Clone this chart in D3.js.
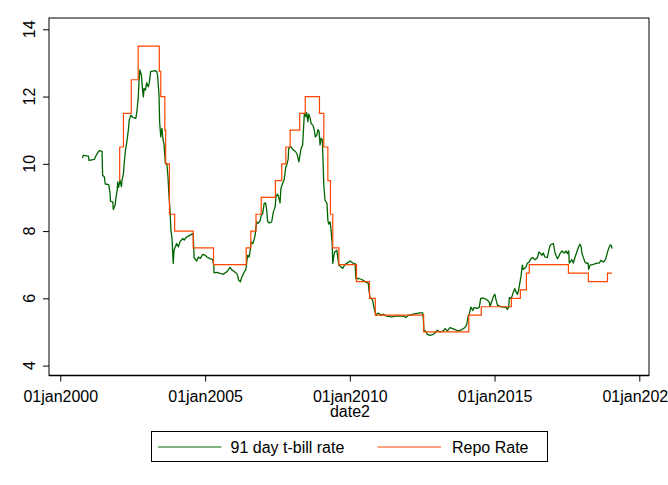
<!DOCTYPE html>
<html>
<head>
<meta charset="utf-8">
<script src="https://cdn.jsdelivr.net/npm/d3@7"></script>
<style>
  body { margin: 0; background: #fff; }
  text { font-family: "Liberation Sans", Arial, sans-serif; fill: #000; }
</style>
</head>
<body>
<div class="canvas"></div>
<script>
// values: [decimal year, rate]
const tbill = [
  [2000.76,10.17],[2000.79,10.25],[2000.97,10.23],[2000.99,10.10],[2001.05,10.11],[2001.17,10.13],
  [2001.26,10.29],[2001.34,10.39],[2001.44,10.37],[2001.46,9.66],[2001.52,9.61],[2001.55,9.40],
  [2001.67,9.38],[2001.72,9.12],[2001.73,8.89],[2001.81,8.87],[2001.83,8.64],[2001.89,8.77],
  [2001.92,8.97],[2001.97,9.27],[2001.98,9.46],[2002.01,9.30],[2002.06,9.51],[2002.11,9.32],
  [2002.13,9.51],[2002.18,9.71],[2002.21,10.06],[2002.25,10.41],[2002.29,10.61],[2002.35,11.00],
  [2002.38,11.30],[2002.44,11.45],[2002.50,11.38],[2002.61,11.35],[2002.65,11.60],[2002.69,11.95],
  [2002.72,12.49],[2002.75,12.79],[2002.80,12.64],[2002.85,12.10],[2002.87,11.99],[2002.89,12.24],
  [2002.94,12.19],[2002.98,12.41],[2003.04,12.29],[2003.07,12.39],[2003.12,12.74],[2003.27,12.77],
  [2003.33,12.74],[2003.36,12.64],[2003.41,12.04],[2003.43,11.25],[2003.47,10.80],[2003.51,11.05],
  [2003.55,10.71],[2003.58,10.61],[2003.63,10.01],[2003.68,10.01],[2003.72,9.61],[2003.75,9.12],
  [2003.79,8.62],[2003.82,8.03],[2003.86,7.78],[2003.90,7.04],[2003.93,7.43],[2003.97,7.53],
  [2004.02,7.63],[2004.08,7.53],[2004.13,7.68],[2004.23,7.78],[2004.28,7.73],[2004.34,7.81],
  [2004.42,7.85],[2004.54,7.91],[2004.59,7.93],[2004.62,7.21],[2004.71,7.11],[2004.77,7.23],
  [2004.83,7.18],[2004.92,7.31],[2005.00,7.28],[2005.06,7.23],[2005.17,7.18],[2005.26,7.15],
  [2005.30,6.98],[2005.31,6.76],[2005.40,6.77],[2005.52,6.74],[2005.63,6.72],[2005.75,6.79],
  [2005.86,6.92],[2005.93,6.84],[2006.03,6.78],[2006.11,6.72],[2006.16,6.54],[2006.22,6.49],
  [2006.25,6.59],[2006.30,6.69],[2006.36,6.79],[2006.41,6.86],[2006.44,7.08],[2006.47,7.28],
  [2006.52,7.23],[2006.56,7.43],[2006.59,7.68],[2006.65,7.63],[2006.69,7.73],[2006.73,7.88],
  [2006.78,8.27],[2006.83,8.23],[2006.90,8.30],[2006.94,8.47],[2006.99,8.52],[2007.04,8.82],
  [2007.09,8.84],[2007.13,8.62],[2007.16,8.30],[2007.22,8.24],[2007.30,8.27],[2007.36,8.57],
  [2007.42,8.72],[2007.45,9.02],[2007.50,9.10],[2007.54,9.02],[2007.59,8.84],[2007.62,9.27],
  [2007.68,9.42],[2007.73,9.51],[2007.79,9.91],[2007.82,9.96],[2007.87,10.13],[2007.89,10.46],
  [2007.96,10.51],[2008.05,10.41],[2008.13,10.36],[2008.19,10.26],[2008.24,10.06],[2008.27,10.21],
  [2008.31,10.43],[2008.37,10.56],[2008.41,11.20],[2008.43,11.50],[2008.49,11.40],[2008.51,11.52],
  [2008.55,11.25],[2008.58,11.48],[2008.63,11.35],[2008.66,11.20],[2008.72,11.15],[2008.76,11.05],
  [2008.81,10.80],[2008.86,10.85],[2008.90,11.02],[2008.94,10.95],[2008.97,10.56],[2009.01,10.76],
  [2009.05,10.71],[2009.10,9.37],[2009.14,8.92],[2009.18,8.87],[2009.21,8.82],[2009.24,8.32],
  [2009.27,8.21],[2009.32,8.27],[2009.35,8.03],[2009.39,7.63],[2009.41,7.04],[2009.44,7.23],
  [2009.48,7.38],[2009.55,7.43],[2009.62,6.99],[2009.69,6.94],[2009.75,6.89],[2009.82,6.99],
  [2009.89,7.04],[2010.01,7.11],[2010.10,7.05],[2010.18,7.04],[2010.21,6.59],[2010.31,6.59],
  [2010.41,6.56],[2010.49,6.52],[2010.54,6.49],[2010.64,6.44],[2010.66,6.24],[2010.70,6.02],
  [2010.73,6.00],[2010.79,5.94],[2010.83,5.74],[2010.87,5.60],[2010.91,5.49],[2010.95,5.55],
  [2011.01,5.55],[2011.08,5.49],[2011.14,5.53],[2011.27,5.47],[2011.45,5.45],[2011.62,5.48],
  [2011.85,5.47],[2011.94,5.43],[2012.02,5.49],[2012.19,5.53],[2012.42,5.57],[2012.52,5.57],
  [2012.54,5.35],[2012.56,5.05],[2012.61,5.03],[2012.68,4.93],[2012.77,4.90],[2012.88,4.93],
  [2012.94,4.97],[2013.02,5.05],[2013.12,5.00],[2013.23,5.03],[2013.29,5.10],[2013.37,5.03],
  [2013.46,5.13],[2013.55,5.10],[2013.63,5.07],[2013.75,5.03],[2013.87,5.07],[2013.94,5.11],
  [2013.99,5.15],[2014.04,5.23],[2014.09,5.49],[2014.13,5.55],[2014.18,5.74],[2014.25,5.64],
  [2014.29,5.73],[2014.38,5.70],[2014.47,5.73],[2014.52,6.00],[2014.61,6.01],[2014.73,5.96],
  [2014.82,5.89],[2014.84,5.76],[2014.90,5.89],[2014.96,6.06],[2015.01,6.12],[2015.05,5.96],
  [2015.10,5.80],[2015.19,5.76],[2015.30,5.74],[2015.40,5.73],[2015.44,5.67],[2015.49,5.74],
  [2015.51,6.02],[2015.56,6.00],[2015.60,6.05],[2015.65,6.19],[2015.70,6.29],[2015.74,6.19],
  [2015.79,6.12],[2015.83,6.24],[2015.88,6.49],[2015.92,6.69],[2015.96,6.99],[2015.99,6.86],
  [2016.04,6.89],[2016.09,6.94],[2016.13,7.04],[2016.20,7.08],[2016.25,7.18],[2016.32,7.21],
  [2016.40,7.15],[2016.48,7.21],[2016.53,7.38],[2016.59,7.33],[2016.64,7.28],[2016.68,7.35],
  [2016.74,7.23],[2016.82,7.21],[2016.87,7.41],[2016.92,7.58],[2016.97,7.61],[2017.03,7.63],
  [2017.08,7.38],[2017.12,7.28],[2017.17,7.18],[2017.22,7.25],[2017.26,7.33],[2017.33,7.41],
  [2017.40,7.35],[2017.47,7.41],[2017.51,7.33],[2017.56,7.41],[2017.58,7.05],[2017.67,7.15],
  [2017.72,7.05],[2017.78,7.23],[2017.84,7.38],[2017.91,7.55],[2017.95,7.61],[2017.99,7.53],
  [2018.02,7.33],[2018.07,7.21],[2018.12,7.08],[2018.18,7.04],[2018.23,7.05],[2018.25,6.86],
  [2018.30,6.99],[2018.41,7.01],[2018.53,7.05],[2018.62,7.05],[2018.67,7.13],[2018.76,7.08],
  [2018.83,7.15],[2018.87,7.28],[2018.92,7.43],[2018.99,7.59],[2019.03,7.57],[2019.06,7.48]
];

// repo rate: date the rate changed, new rate
const repo = [
  [2002.04,9.5],[2002.05,10.5],[2002.18,11.5],[2002.45,12.5],[2002.69,13.5],[2003.42,12.75],
  [2003.47,12.0],[2003.61,11.0],[2003.64,10.0],[2003.77,8.5],[2003.95,8.0],[2004.59,7.5],
  [2005.29,7.0],[2006.42,7.5],[2006.58,8.0],[2006.76,8.5],[2006.94,9.0],[2007.43,9.5],
  [2007.65,10.0],[2007.79,10.5],[2007.94,11.0],[2008.27,11.5],[2008.46,12.0],[2008.95,11.5],
  [2009.10,10.5],[2009.24,9.5],[2009.33,8.5],[2009.41,7.5],[2009.62,7.0],[2010.23,6.5],
  [2010.68,6.0],[2010.88,5.5],[2012.55,5.0],[2014.11,5.5],[2014.54,5.75],[2015.58,6.0],
  [2015.89,6.25],[2016.10,6.75],[2016.20,7.0],[2017.55,6.75],[2018.24,6.5],[2018.90,6.75],
  [2019.06,6.75]
];

const yTicks = [4, 6, 8, 10, 12, 14];
const xTickYears = [2000, 2005, 2010, 2015, 2020];
const seriesNames = ["91 day t-bill rate", "Repo Rate"];
const seriesColors = ["#006400", "#ff4500"];

const dims = {width: 668, height: 485};
const frame = {left: 49, top: 18, right: 649, bottom: 375.5};

const toDate = yr => {
  const y0 = Math.floor(yr);
  const start = Date.UTC(y0, 0, 1), end = Date.UTC(y0 + 1, 0, 1);
  return new Date(start + (yr - y0) * (end - start));
};

const svg = d3.select(".canvas")
  .append("svg")
  .attr("width", dims.width)
  .attr("height", dims.height);

svg.append("rect").attr("width", dims.width).attr("height", dims.height).attr("fill", "#fff");

const x = d3.scaleTime()
  .domain([new Date(Date.UTC(2000, 0, 1)), new Date(Date.UTC(2020, 0, 1))])
  .range([60.3, 639.3]);

const y = d3.scaleLinear().domain([4, 14]).range([365.6, 29.3]);

// plot frame
svg.append("rect")
  .attr("x", frame.left).attr("y", frame.top)
  .attr("width", frame.right - frame.left).attr("height", frame.bottom - frame.top)
  .attr("fill", "none").attr("stroke", "#000").attr("stroke-width", 1);
svg.append("line")
  .attr("x1", frame.left).attr("x2", frame.right)
  .attr("y1", frame.bottom).attr("y2", frame.bottom)
  .attr("stroke", "#000").attr("stroke-width", 1.6);

// y axis
const yAxis = d3.axisLeft(y).tickValues(yTicks).tickSize(6).tickFormat("");
const yG = svg.append("g").attr("transform", `translate(${frame.left},0)`).call(yAxis);
yG.select(".domain").remove();
yG.selectAll("line").attr("stroke", "#000");
svg.selectAll(".ylab").data(yTicks).enter().append("text")
  .attr("class", "ylab")
  .attr("transform", d => `translate(35,${y(d)}) rotate(-90)`)
  .attr("text-anchor", "middle")
  .style("font-size", "16px")
  .text(d => d);

// x axis
const fmt = d3.utcFormat("%d%b%Y");
const xAxis = d3.axisBottom(x)
  .tickValues(xTickYears.map(yr => new Date(Date.UTC(yr, 0, 1))))
  .tickSize(6)
  .tickFormat(d => fmt(d).toLowerCase());
const xG = svg.append("g").attr("transform", `translate(0,${frame.bottom})`).call(xAxis);
xG.select(".domain").remove();
xG.selectAll("line").attr("stroke", "#000");
xG.selectAll("text")
  .attr("y", 26).attr("dy", 0)
  .style("font-size", "16px")
  .style("font-family", '"Liberation Sans", Arial, sans-serif')
  .attr("fill", "#000");

svg.append("text")
  .attr("x", 350).attr("y", 417)
  .attr("text-anchor", "middle")
  .style("font-size", "16px")
  .text("date2");

// lines
const tbillLine = d3.line().x(d => x(toDate(d[0]))).y(d => y(d[1]));
const repoLine = d3.line().curve(d3.curveStepAfter).x(d => x(toDate(d[0]))).y(d => y(d[1]));

svg.append("path")
  .attr("d", tbillLine(tbill))
  .attr("fill", "none")
  .attr("stroke", seriesColors[0])
  .attr("stroke-width", 1.3)
  .attr("stroke-linejoin", "round");

svg.append("path")
  .attr("d", repoLine(repo))
  .attr("fill", "none")
  .attr("stroke", seriesColors[1])
  .attr("stroke-width", 1.2);

// legend
const legend = svg.append("g");
legend.append("rect")
  .attr("x", 151.5).attr("y", 431.5).attr("width", 396).attr("height", 30)
  .attr("fill", "#fff").attr("stroke", "#000").attr("stroke-width", 1);
const legendPos = [{line: 158, text: 230.5}, {line: 377.5, text: 452}];
seriesNames.forEach((name, i) => {
  legend.append("line")
    .attr("x1", legendPos[i].line).attr("x2", legendPos[i].line + 63.5)
    .attr("y1", 447).attr("y2", 447)
    .attr("stroke", seriesColors[i]).attr("stroke-width", 1);
  legend.append("text")
    .attr("x", legendPos[i].text).attr("y", 452.5)
    .style("font-size", "16px")
    .text(name);
});
</script>
</body>
</html>
